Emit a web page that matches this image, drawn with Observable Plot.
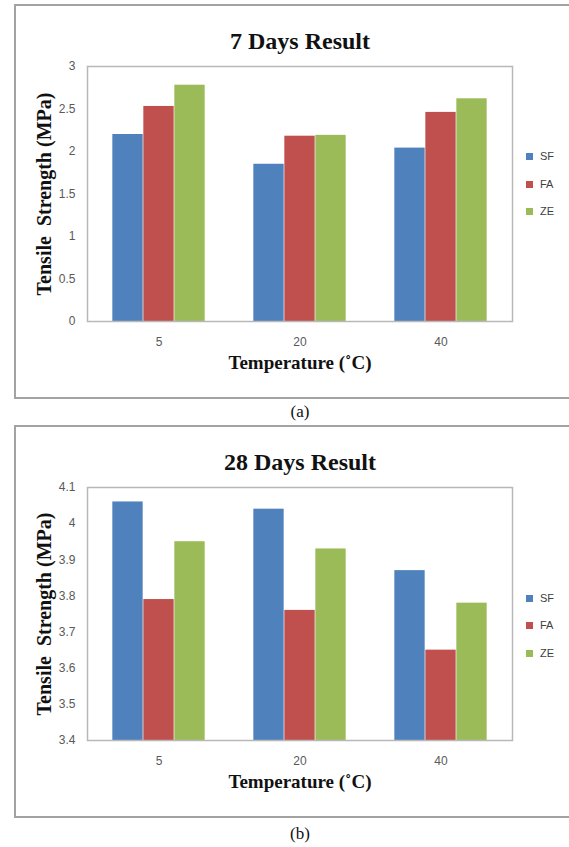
<!DOCTYPE html>
<html>
<head>
<meta charset="utf-8">
<script src="https://cdn.jsdelivr.net/npm/d3@7"></script>
<script src="https://cdn.jsdelivr.net/npm/@observablehq/plot@0.6"></script>
<style>
  html, body { margin: 0; padding: 0; background: #fff; overflow: hidden; }
  #page { position: relative; width: 569px; height: 847px; overflow: hidden; }
  .box { position: absolute; left: 14px; width: 620px; border: 2px solid #a3a3a3; border-right: none; box-sizing: border-box; }
  .chart { position: absolute; left: 0; }
  .legend { position: absolute; left: 526px; font: 11px "Liberation Sans", Arial, sans-serif; color: #404040; }
  .item { position: absolute; left: 0; height: 12px; width: 40px; }
  .sw { position: absolute; left: 0; top: 2.5px; width: 7px; height: 7px; }
  .lab { position: absolute; left: 14px; top: -1px; line-height: 14px; }
  .cap { position: absolute; left: 0; width: 600px; text-align: center; font: 17px "Liberation Serif", "DejaVu Serif", serif; color: #111; line-height: 20px; }
</style>
</head>
<body>
<div id="page"></div>
<script>
// ---- data ----
const temperatures = ["5", "20", "40"];
const series = ["SF", "FA", "ZE"];
const seriesColors = ["#4F81BD", "#C0504D", "#9BBB59"];

const day7SF = [2.20, 1.85, 2.04];
const day7FA = [2.53, 2.18, 2.46];
const day7ZE = [2.78, 2.19, 2.62];

const day28SF = [4.06, 4.04, 3.87];
const day28FA = [3.79, 3.76, 3.65];
const day28ZE = [3.95, 3.93, 3.78];

const yTicks7 = [0, 0.5, 1, 1.5, 2, 2.5, 3];
const yTicks28 = [3.4, 3.5, 3.6, 3.7, 3.8, 3.9, 4.0, 4.1];

const title7 = "7 Days Result";
const title28 = "28 Days Result";
const xTitle = "Temperature (˚C)";
const yTitle = "Tensile\u00a0 Strength (MPa)";

function rowsOf(a, b, c) {
  const cols = [a, b, c];
  const rows = [];
  series.forEach((s, si) => temperatures.forEach((t, ti) => rows.push({temp: t, series: s, value: cols[si][ti]})));
  return rows;
}

const page = document.getElementById("page");

function panel({top, height, title, rows, ticks, legendTops, capTop, capText}) {
  const box = document.createElement("div");
  box.className = "box";
  box.style.top = top + "px";
  box.style.height = height + "px";
  page.appendChild(box);

  const marginLeft = 87, marginRight = 57, width = 569;
  const bandW = (width - marginLeft - marginRight) / temperatures.length;
  const barW = 31;
  const inset = (bandW - barW) / 2;
  const serif = "Liberation Serif, Times New Roman, serif";

  const plot = Plot.plot({
    width, height,
    marginLeft, marginRight, marginTop: 62, marginBottom: 78,
    style: {fontFamily: "Liberation Sans, Arial, sans-serif", fontSize: "12px", color: "#595959", background: "transparent", overflow: "visible"},
    x: {type: "band", domain: temperatures, padding: 0},
    y: {domain: [ticks[0], ticks[ticks.length - 1]]},
    color: {domain: series, range: seriesColors},
    marks: [
      ...series.map((s, i) => Plot.barY(rows.filter(d => d.series === s), {
        x: "temp", y1: ticks[0], y2: "value", fill: "series",
        dx: (i - 1) * barW, insetLeft: inset, insetRight: inset
      })),
      Plot.frame({stroke: "#b8b8b8", strokeWidth: 1.5}),
      Plot.axisY({ticks, tickSize: 0, tickPadding: 12, label: null, tickFormat: d => String(d)}),
      Plot.axisX({tickSize: 0, tickPadding: 16, label: null}),
      Plot.text([title], {text: d => d, frameAnchor: "top", textAnchor: "middle", dy: -35, fontFamily: serif, fontWeight: "bold", fontSize: 24, fill: "#111"}),
      Plot.text([xTitle], {text: d => d, frameAnchor: "bottom", textAnchor: "middle", dy: 47, fontFamily: serif, fontWeight: "bold", fontSize: 19, fill: "#111"}),
      Plot.text([yTitle], {text: d => d, frameAnchor: "left", textAnchor: "middle", dx: -43, rotate: -90, fontFamily: serif, fontWeight: "bold", fontSize: 20, fill: "#111"})
    ]
  });
  plot.classList.add("chart");
  plot.style.top = top + "px";
  page.appendChild(plot);

  const color = plot.scale("color");
  const legend = document.createElement("div");
  legend.className = "legend";
  legend.style.top = "0px";
  series.forEach((s, i) => {
    const item = document.createElement("div");
    item.className = "item";
    item.style.top = (legendTops[i] - 6) + "px";
    const sw = document.createElement("div");
    sw.className = "sw";
    sw.style.background = color.apply(s);
    const lab = document.createElement("div");
    lab.className = "lab";
    lab.textContent = s;
    item.appendChild(sw);
    item.appendChild(lab);
    legend.appendChild(item);
  });
  page.appendChild(legend);

  const cap = document.createElement("div");
  cap.className = "cap";
  cap.style.top = (capTop - 10) + "px";
  cap.textContent = capText;
  page.appendChild(cap);
}

panel({top: 4, height: 395, title: title7, rows: rowsOf(day7SF, day7FA, day7ZE), ticks: yTicks7,
       legendTops: [156, 184, 211], capTop: 412, capText: "(a)"});
panel({top: 425, height: 393, title: title28, rows: rowsOf(day28SF, day28FA, day28ZE), ticks: yTicks28,
       legendTops: [598, 625, 653], capTop: 834, capText: "(b)"});
</script>
</body>
</html>
